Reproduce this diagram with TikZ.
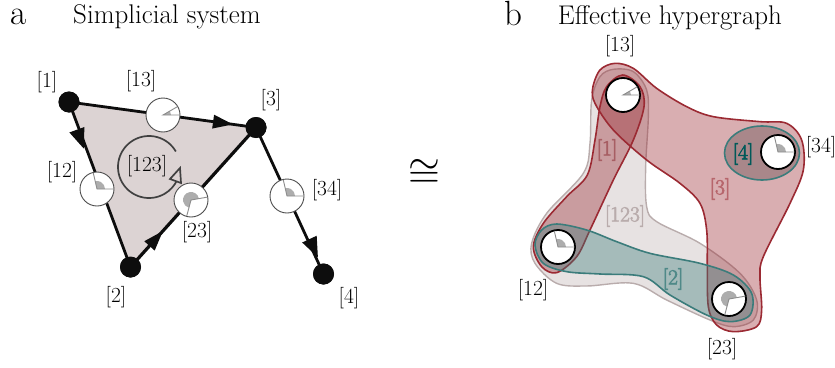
\documentclass[tikz,border=0pt]{standalone}
\usepackage{fontspec}
\newfontfamily\fakeb[FakeBold=3]{Latin Modern Roman}
\usetikzlibrary{arrows.meta}
\definecolor{redl}{HTML}{9B2A33}
\definecolor{tealL}{HTML}{3B7C7B}
\definecolor{grayL}{HTML}{B9ACAC}
\definecolor{triF}{HTML}{DCD3D3}
\newcommand{\fs}[1]{\fontsize{#1}{#1}\selectfont}
\tikzset{
  vtx/.style={circle,fill=black!95,inner sep=0pt,minimum size=21pt},
  hub/.style={circle,draw=black!70,line width=0.9pt,fill=white,inner sep=0pt,minimum size=34pt},
  hubb/.style={circle,draw=black,line width=1.8pt,fill=white,inner sep=0pt,minimum size=34pt},
  lab/.style={inner sep=0pt,font=\fs{21.5}},
  elab/.style={inner sep=0pt,font=\fakeb\fs{21.5}},
  pnl/.style={inner sep=0pt,font=\fs{35},anchor=base},
  ttl/.style={inner sep=0pt,font=\fs{27}},
  edgeline/.style={line width=2.8pt,black!95},
  tip/.style={fill=black!95},
  hyp/.style={line width=1.6pt},
  wedge/.style={draw=black!45,line width=0.9pt},
}
\newcommand{\phase}[3]{%
  \begin{scope}[shift={(#1.center)},x=1pt,y=1pt]
  \fill[black!32] (0,0) -- (#2:8) arc[start angle=#2,end angle=#3,radius=8] -- cycle;
  \draw[wedge] (#2:16.5) -- (0,0) -- (#3:16.5);
  \end{scope}
}
\newcommand{\arrowat}[3]{%
  \begin{scope}[shift={(#1)},rotate=#2,x=1pt,y=1pt]
  \fill[tip] (8,0) -- (-12,-#3) -- (-12,#3) -- cycle;
  \end{scope}
}
\begin{document}
\begin{tikzpicture}[x=1pt,y=-1pt]
\useasboundingbox (0,0) rectangle (835,367);
% panel a
\node[pnl] (pa) at (19,24.5) {a};
\node[ttl] (ta) at (167,17) {Simplicial system};
\node[vtx] (n1) at (69,102) {};
\node[vtx] (n3) at (256,127.5) {};
\node[vtx] (n2) at (130.5,267) {};
\node[vtx] (n4) at (323.5,274) {};
\fill[triF] (n1.center) -- (n3.center) -- (n2.center) -- cycle;
\draw[edgeline] (n1.center) -- (n3.center);
\draw[edgeline] (n1.center) -- (n2.center);
\draw[edgeline,line width=3.2pt] (n2.center) -- (n3.center);
\draw[edgeline] (n3.center) -- (n4.center);
\node[vtx] at (n1) {};
\node[vtx] at (n2) {};
\node[vtx] at (n3) {};
\node[vtx] at (n4) {};
\arrowat{225,123.3}{-8}{7}
\arrowat{81,141}{-70}{8}
\arrowat{157.5,237}{48}{7}
\arrowat{314.5,250}{-65}{8}
\node[hub] (h13) at (163,115) {};
\node[hub] (h12) at (97,189) {};
\node[hub] (h23) at (191,200) {};
\node[hub] (h34) at (287,196) {};
\phase{h13}{0}{30}
\phase{h12}{0}{103}
\phase{h34}{0}{103}
\phase{h23}{10}{255}
\begin{scope}[shift={(149,167)},x=1pt,y=1pt]
\draw[black!75,line width=1.7pt] (30:31) arc[start angle=30,end angle=336,radius=31];
\end{scope}
\draw[black!75,line width=1.7pt,fill=triF] (180,168) -- (170,179) -- (181,183) -- cycle;
\node[lab] (l1) at (47,82) {[1]};
\node[lab] (l13) at (141,81) {[13]};
\node[lab] (l3) at (271,100) {[3]};
\node[lab] (l12) at (62,172) {[12]};
\node[lab] (l123) at (147,166) {[123]};
\node[lab] (l34) at (327,190) {[34]};
\node[lab] (l23) at (197,232) {[23]};
\node[lab] (l2) at (116,297) {[2]};
\node[lab] (l4) at (349,298) {[4]};
\node[inner sep=0pt,scale=4.1] (cong) at (424,173) {$\cong$};
% panel b
\node[pnl] (pb) at (513,25.5) {b};
\node[ttl] (tb) at (670,18) {Effective hypergraph};
\begin{scope}[x=0.33333pt,y=-0.33333pt,shift={(1500,0)}]
\draw[hyp,draw=grayL,fill=grayL,fill opacity=0.35,line width=1.4pt] plot[smooth cycle,tension=0.55] coordinates {
 (340,208) (400,215) (440,270) (445,350) (437,500) (440,620) (470,665) (600,730) (720,820) (770,900) (760,960) (700,980) (630,960) (500,900) (400,850) (260,858) (170,850) (105,790) (95,730) (140,640) (250,520) (270,430) (275,300) (300,230)};
\draw[hyp,draw=redl,fill=redl,fill opacity=0.38] plot[smooth cycle,tension=0.55] coordinates {
 (278,265) (300,210) (345,190) (400,205) (470,265) (560,320) (640,350) (780,365) (860,370) (905,420) (910,510) (870,610) (790,770) (780,830) (785,930) (770,980) (700,995) (650,975) (625,920) (622,800) (620,690) (600,610) (540,550) (440,480) (340,390) (285,310)};
\draw[hyp,draw=redl,fill=redl,fill opacity=0.38] plot[smooth cycle,tension=0.55] coordinates {
 (368,225) (420,260) (432,320) (400,420) (340,540) (270,690) (230,770) (170,818) (125,800) (100,740) (130,670) (200,590) (262,525) (285,420) (300,320) (320,260)};
\draw[hyp,draw=tealL,fill=tealL,fill opacity=0.38] plot[smooth cycle,tension=0.55] coordinates {
 (170,672) (260,690) (350,725) (450,760) (600,790) (700,825) (755,880) (750,945) (690,965) (620,945) (510,885) (430,830) (300,822) (200,815) (130,790) (105,735) (125,690)};
\end{scope}
\draw[hyp,draw=tealL,fill=black,fill opacity=0.22] (762,153) ellipse[x radius=37.5pt,y radius=27pt];
\node[hubb] (b13) at (623,95) {};
\node[hubb] (b12) at (558,247) {};
\node[hubb] (b23) at (729,299) {};
\node[hubb] (b34) at (778,152) {};
\phase{b13}{0}{30}
\phase{b12}{0}{103}
\phase{b34}{0}{103}
\phase{b23}{10}{255}
\node[lab] (m13) at (620,46) {[13]};
\node[lab] (m34) at (821,147) {[34]};
\node[lab] (m12) at (533,290) {[12]};
\node[lab] (m23) at (722,349) {[23]};
\node[elab,text=redl!60!grayL] (e1) at (607,150) {[1]};
\node[elab,text=redl!72!white] (e3) at (720,189) {[3]};
\node[elab,text=grayL] (e123) at (625,216) {[123]};
\node[elab,text=tealL!90!white] (e2) at (673,279) {[2]};
\node[elab,text=teal!70!black] (e4) at (743,154) {[4]};
\end{tikzpicture}
\end{document}
